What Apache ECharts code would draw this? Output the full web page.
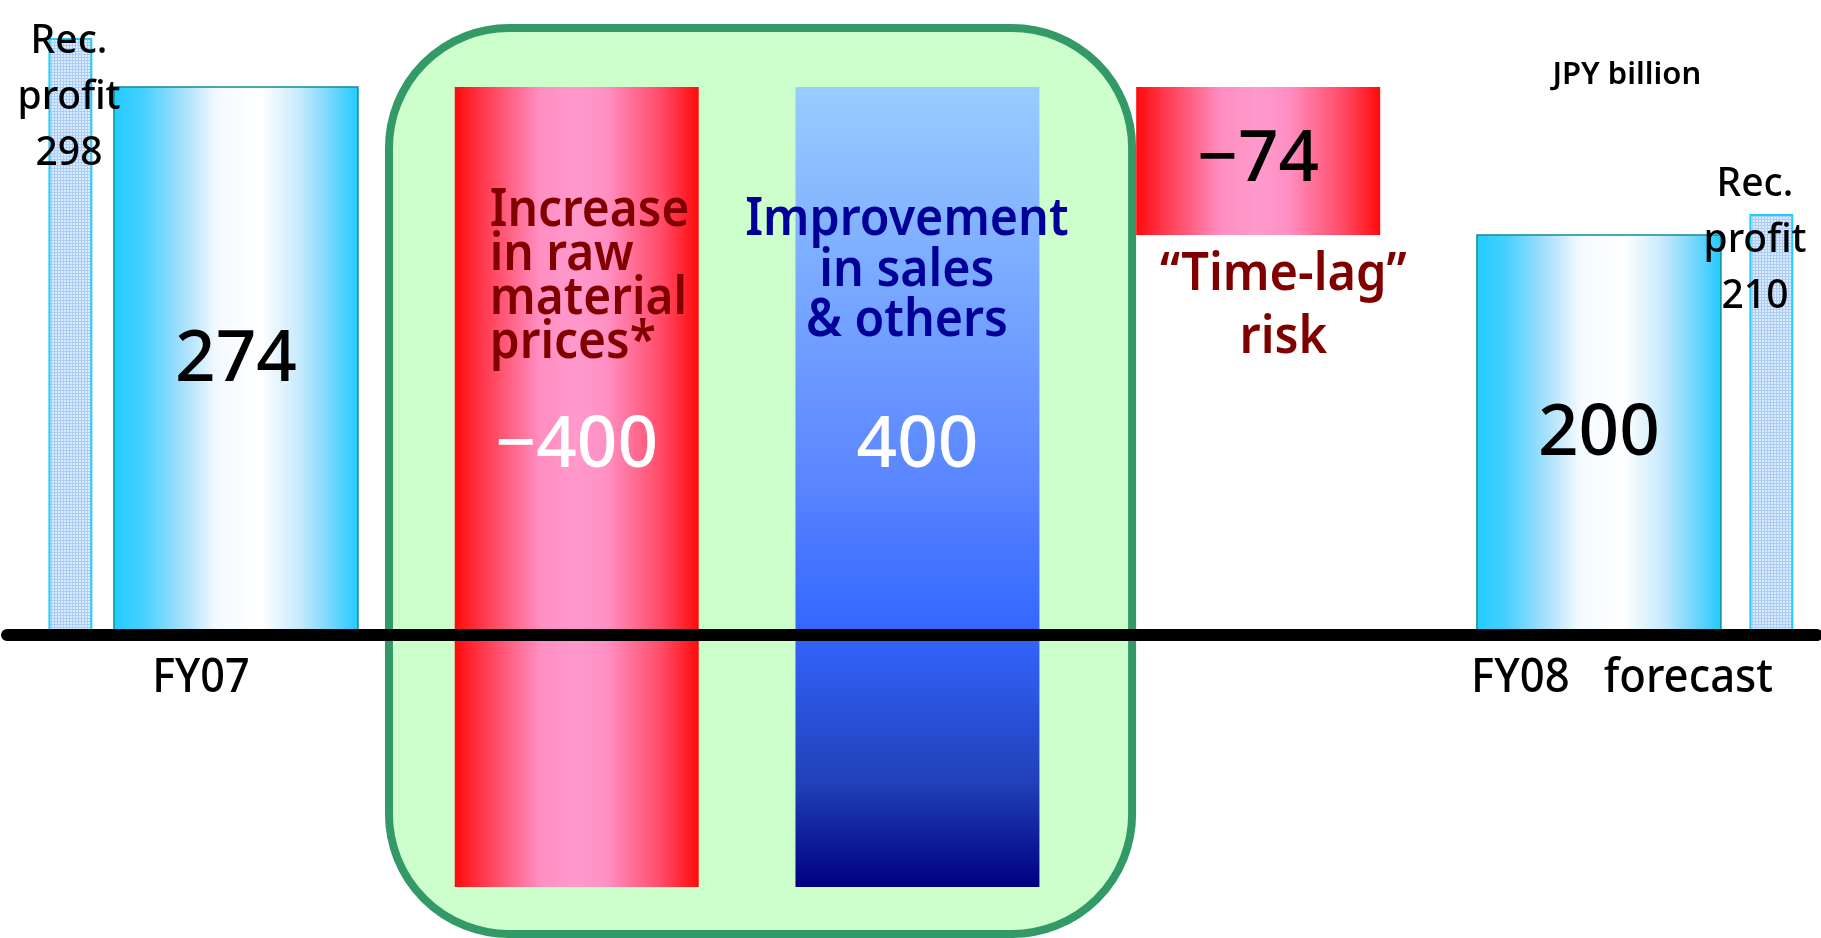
<!DOCTYPE html>
<html>
<head>
<meta charset="utf-8">
<script src="https://cdn.jsdelivr.net/npm/echarts@6/dist/echarts.min.js"></script>
<style>
  html, body { margin: 0; padding: 0; background: #ffffff; }
  #chart { width: 1821px; height: 938px; }
</style>
</head>
<body>
<div id="chart"></div>
<script>
// Recurring profit bridge: FY07 result to FY08 forecast (JPY billion)
const stepNames = ['FY07', 'Increase\nin raw\nmaterial\nprices*', 'Improvement\nin sales\n& others', '\u201CTime-lag\u201D\nrisk', 'FY08   forecast'];
const stepValues = [274, -400, 400, -74, 200];
const stepKinds = ['total', 'delta', 'delta', 'delta', 'total'];
const recProfitTitle = 'Rec.\nprofit';
const recProfitValues = [298, 210];
const unitLabel = 'JPY billion';

// ---- layout (axis units: one category step on x, JPY billion on y) ----
const X_RANGE = [-0.672, 4.640];
const Y_RANGE = [-151.5, 317.5];
const BAR_W = 0.716;
const REC_X = [-0.486, 4.506];
const REC_W = 0.123;
const BOX = { x0: 0.449, x1: 2.630, y0: 303.5, y1: -149.5, r: 120 };
const FONT = '"Noto Sans", "Open Sans", sans-serif';

// value label position inside each bar (fraction down from the bar top) and colour
const valueLabelStyle = [
  { frac: 0.5, color: '#000000' },
  { frac: 0.45, color: '#ffffff' },
  { frac: 0.45, color: '#ffffff' },
  { frac: 0.5, color: '#000000' },
  { frac: 0.5, color: '#000000' }
];

// placement of the step captions (sx narrows the glyphs horizontally)
const captionLayout = [
  { x: -0.103, y: -21.5, align: 'center', vAlign: 'middle', size: 48, weight: 500, color: '#000000', lh: 50, sx: 0.9 },
  { x: 0.745, y: 223, align: 'left', vAlign: 'top', size: 52, weight: 600, color: '#800000', lh: 44, sx: 0.92 },
  { x: 1.969, y: 220, align: 'center', vAlign: 'top', size: 52, weight: 600, color: '#000099', lh: 50.5, sx: 0.93 },
  { x: 3.074, y: 196, align: 'center', vAlign: 'top', size: 53, weight: 600, color: '#800000', lh: 63, sx: 0.92 },
  { x: 4.068, y: -21.5, align: 'center', vAlign: 'middle', size: 48, weight: 500, color: '#000000', lh: 50, sx: 0.91 }
];
const recTextLayout = [{ x: -0.490, y: 310.5 }, { x: 4.458, y: 239 }];
const unitLayout = { x: 4.082, y: 280 };

// ---- fills ----
const G = echarts.graphic;
const cyanFill = () => new G.LinearGradient(0, 0, 1, 0, [
  { offset: 0, color: '#22ccff' }, { offset: 0.12, color: '#45d0ff' },
  { offset: 0.3, color: '#b0e2fc' }, { offset: 0.42, color: '#f3faff' },
  { offset: 0.6, color: '#ffffff' }, { offset: 0.76, color: '#c6eafc' },
  { offset: 0.9, color: '#6bd5fd' }, { offset: 1, color: '#1fcbff' }
]);
const redFill = () => new G.LinearGradient(0, 0, 1, 0, [
  { offset: 0, color: '#ff0a0a' }, { offset: 0.12, color: '#ff3a4f' },
  { offset: 0.35, color: '#ff8fc2' }, { offset: 0.5, color: '#ff99cc' },
  { offset: 0.62, color: '#ff90c4' }, { offset: 0.85, color: '#ff4a66' },
  { offset: 1, color: '#ff0a0a' }
]);
const blueFill = () => new G.LinearGradient(0, 0, 0, 1, [
  { offset: 0, color: '#99ccff' }, { offset: 0.49, color: '#5a86ff' },
  { offset: 0.68, color: '#3366ff' }, { offset: 0.87, color: '#2040b8' },
  { offset: 1, color: '#000080' }
]);
const stepFill = (i, v) => stepKinds[i] === 'total' ? cyanFill() : (v < 0 ? redFill() : blueFill());

// fine grid texture for the recurring-profit columns
const gridTile = (function () {
  const c = document.createElement('canvas');
  c.width = 3; c.height = 3;
  const ctx = c.getContext('2d');
  ctx.fillStyle = '#dcecfd';
  ctx.fillRect(0, 0, 3, 3);
  ctx.fillStyle = '#a9cdf7';
  ctx.fillRect(0, 0, 3, 1);
  ctx.fillRect(0, 0, 1, 3);
  return c;
})();

// ---- waterfall ranges ----
let running = 0;
const barRows = stepValues.map((v, i) => {
  let low, high;
  if (stepKinds[i] === 'total') {
    low = 0; high = v; running = v;
  } else {
    const next = running + v;
    low = Math.min(running, next); high = Math.max(running, next);
    running = next;
  }
  return [i, low, high, v];
});
const recRows = recProfitValues.map((v, i) => [i, v]);
const fmt = v => (v < 0 ? '\u2212' : '') + Math.abs(v);

const chart = echarts.init(document.getElementById('chart'), null, { renderer: 'canvas' });

chart.setOption({
  backgroundColor: '#ffffff',
  animation: false,
  grid: { left: 7, right: 4, top: 0, bottom: 0 },
  xAxis: {
    type: 'value', min: X_RANGE[0], max: X_RANGE[1], z: 10,
    axisLine: { show: true, onZero: true, lineStyle: { color: '#000000', width: 12 } },
    axisTick: { show: false }, axisLabel: { show: false }, splitLine: { show: false }
  },
  yAxis: {
    type: 'value', min: Y_RANGE[0], max: Y_RANGE[1], show: false,
    splitLine: { show: false }
  },
  series: [
    {
      // highlight panel around the two raw-material drivers
      type: 'custom', z: 1, silent: true,
      data: [[0]],
      renderItem(params, api) {
        const a = api.coord([BOX.x0, BOX.y0]);
        const b = api.coord([BOX.x1, BOX.y1]);
        return {
          type: 'rect',
          shape: { x: a[0], y: a[1], width: b[0] - a[0], height: b[1] - a[1], r: BOX.r },
          style: { fill: '#ccffcc', stroke: '#339966', lineWidth: 8 }
        };
      }
    },
    {
      type: 'custom', z: 2, silent: true,
      data: barRows,
      renderItem(params, api) {
        const i = api.value(0), low = api.value(1), high = api.value(2), v = api.value(3);
        const p0 = api.coord([i - BAR_W / 2, high]);
        const p1 = api.coord([i + BAR_W / 2, low]);
        const total = stepKinds[i] === 'total';
        const ls = valueLabelStyle[i];
        return {
          type: 'group',
          children: [
            {
              type: 'rect',
              shape: { x: p0[0], y: p0[1], width: p1[0] - p0[0], height: p1[1] - p0[1] },
              style: total ? { fill: stepFill(i, v), stroke: '#0d8f94', lineWidth: 1.5 } : { fill: stepFill(i, v) }
            },
            {
              type: 'text',
              x: (p0[0] + p1[0]) / 2,
              y: p0[1] + (p1[1] - p0[1]) * ls.frac,
              style: {
                text: fmt(v), fill: ls.color, fontFamily: FONT, fontSize: 71, fontWeight: 500,
                align: 'center', verticalAlign: 'middle'
              }
            }
          ]
        };
      }
    },
    {
      type: 'custom', z: 2, silent: true,
      data: recRows,
      renderItem(params, api) {
        const k = api.value(0), v = api.value(1);
        const p0 = api.coord([REC_X[k] - REC_W / 2, v]);
        const p1 = api.coord([REC_X[k] + REC_W / 2, 0]);
        return {
          type: 'rect',
          shape: { x: p0[0], y: p0[1], width: p1[0] - p0[0], height: p1[1] - p0[1] },
          style: { fill: { image: gridTile, repeat: 'repeat' }, stroke: '#22ccff', lineWidth: 2 }
        };
      }
    },
    {
      // captions and annotations
      type: 'custom', z: 3, silent: true,
      data: [[0]],
      renderItem(params, api) {
        const children = [];
        stepNames.forEach((name, i) => {
          const c = captionLayout[i];
          const p = api.coord([c.x, c.y]);
          children.push({
            type: 'text', x: p[0], y: p[1], scaleX: c.sx,
            style: {
              text: name, fill: c.color, fontFamily: FONT, fontSize: c.size, fontWeight: c.weight,
              lineHeight: c.lh, align: c.align, verticalAlign: c.vAlign
            }
          });
        });
        recProfitValues.forEach((v, k) => {
          const c = recTextLayout[k];
          const p = api.coord([c.x, c.y]);
          children.push({
            type: 'text', x: p[0], y: p[1],
            style: {
              text: recProfitTitle + '\n' + v, fill: '#000000', fontFamily: FONT, fontSize: 39,
              fontWeight: 500, lineHeight: 56, align: 'center', verticalAlign: 'top'
            }
          });
        });
        const u = api.coord([unitLayout.x, unitLayout.y]);
        children.push({
          type: 'text', x: u[0], y: u[1],
          style: {
            text: unitLabel, fill: '#000000', fontFamily: FONT, fontSize: 31, fontWeight: 600,
            align: 'center', verticalAlign: 'middle'
          }
        });
        return { type: 'group', children };
      }
    }
  ]
});
</script>
</body>
</html>
